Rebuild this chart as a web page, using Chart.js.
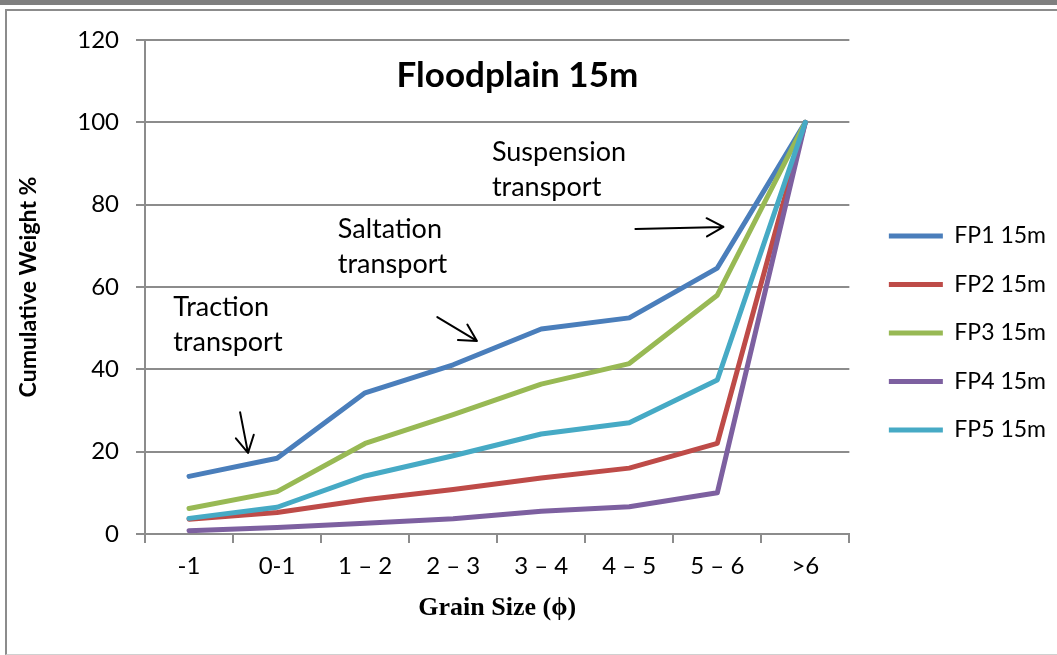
<!DOCTYPE html>
<html>
<head>
<meta charset="utf-8">
<script src="https://cdn.jsdelivr.net/npm/chart.js@4.4.0/dist/chart.umd.min.js"></script>
<style>
    html, body { margin: 0; padding: 0; background: #fff; }
    body { width: 1057px; height: 655px; position: relative; overflow: hidden; }
    .barra { position: absolute; left: 0; top: 0; width: 1057px; height: 5px; background: #7f7f7f; }
    .moldura { position: absolute; left: 5px; top: 9px; width: 1060px; height: 643px;
               border-left: 2px solid #8c8c8c; border-top: 2px solid #8c8c8c; border-bottom: 1px solid #d0d0d0; }
    .grafico { position: absolute; left: 0; top: 0; width: 1057px; height: 655px; }
</style>
</head>
<body>
<div class="barra"></div>
<div class="moldura"></div>
<div class="grafico"><canvas id="lineChart"></canvas></div>

<script>
const categorias = ['-1', '0-1', '1 – 2', '2 – 3', '3 – 4', '4 – 5', '5 – 6', '>6'];
const nomesSeries = ['FP1 15m', 'FP2 15m', 'FP3 15m', 'FP4 15m', 'FP5 15m'];
const fp1 = [14, 18.4, 34.3, 41.1, 49.8, 52.5, 64.6, 100];
const fp2 = [3.6, 5.2, 8.3, 10.8, 13.6, 16, 22, 100];
const fp3 = [6.2, 10.3, 22, 29, 36.4, 41.4, 58, 100];
const fp4 = [0.8, 1.6, 2.6, 3.7, 5.5, 6.6, 10, 100];
const fp5 = [3.8, 6.5, 14.1, 19, 24.3, 27, 37.4, 100];
const cores = ['#4a7ebb', '#be4b48', '#98b954', '#7d60a0', '#46aac5'];

// textos e setas desenhados por cima (posicao em indice de categoria / valor)
const titulo = { texto: 'Floodplain 15m', x: 3.73, y: 111.3 };
const notas = [
    { linhas: ['Traction', 'transport'], x: -0.18, y: 55.1 },
    { linhas: ['Saltation', 'transport'], x: 1.69, y: 74.1 },
    { linhas: ['Suspension', 'transport'], x: 3.44, y: 92.8 }
];
const setas = [
    { de: [0.58, 29.6], para: [0.67, 19.7] },
    { de: [2.82, 52.7], para: [3.27, 46.9] },
    { de: [5.07, 74.1], para: [6.07, 74.6] }
];

let lineChartInstance;

const anotacoes = {
    id: 'anotacoes',
    afterLayout(chart) {
        // legenda um pouco afastada da area do grafico
        const lg = chart.legend;
        const dx = chart.chartArea.right + 14 - lg.left;
        lg.left += dx;
        lg.right += dx;
    },
    afterDraw(chart) {
        const c = chart.ctx;
        const sx = chart.scales.x;
        const sy = chart.scales.y;
        c.save();
        c.fillStyle = '#000';
        c.textBaseline = 'middle';

        c.font = 'bold 35px Lato';
        c.textAlign = 'center';
        c.fillText(titulo.texto, sx.getPixelForValue(titulo.x), sy.getPixelForValue(titulo.y));

        c.font = '27px Lato';
        c.textAlign = 'left';
        notas.forEach(n => {
            const x = sx.getPixelForValue(n.x);
            const y = sy.getPixelForValue(n.y);
            n.linhas.forEach((t, i) => c.fillText(t, x, y + i * 35));
        });

        c.strokeStyle = '#000';
        c.lineWidth = 2;
        c.lineCap = 'round';
        setas.forEach(s => {
            const x0 = sx.getPixelForValue(s.de[0]), y0 = sy.getPixelForValue(s.de[1]);
            const x1 = sx.getPixelForValue(s.para[0]), y1 = sy.getPixelForValue(s.para[1]);
            const ang = Math.atan2(y1 - y0, x1 - x0);
            c.beginPath();
            c.moveTo(x0, y0);
            c.lineTo(x1, y1);
            [-0.5, 0.5].forEach(a => {
                c.moveTo(x1, y1);
                c.lineTo(x1 - 19 * Math.cos(ang + a), y1 - 19 * Math.sin(ang + a));
            });
            c.stroke();
        });
        c.restore();
    }
};

document.addEventListener('DOMContentLoaded', () => {
    const ctx = document.getElementById('lineChart');
    if (!ctx) return;

    Chart.defaults.font.family = 'Lato';
    Chart.defaults.color = '#000';

    const valores = [fp1, fp2, fp3, fp4, fp5];
    const datasets = valores.map((dados, i) => ({
        label: nomesSeries[i],
        data: dados,
        borderColor: cores[i],
        backgroundColor: cores[i],
        borderWidth: 5,
        borderCapStyle: 'round',
        borderJoinStyle: 'round',
        pointRadius: 0,
        tension: 0,
        fill: false,
        order: valores.length - i
    }));

    lineChartInstance = new Chart(ctx, {
        type: 'line',
        data: { labels: categorias, datasets },
        options: {
            responsive: true,
            maintainAspectRatio: false,
            animation: false,
            layout: { padding: { left: 13, top: 40, bottom: 29, right: 15 } },
            plugins: {
                tooltip: { enabled: false },
                legend: {
                    position: 'right',
                    labels: {
                        usePointStyle: true,
                        pointStyle: 'line',
                        pointStyleWidth: 54,
                        padding: 25.5,
                        font: { size: 23 },
                        sort: (a, b) => a.datasetIndex - b.datasetIndex
                    }
                }
            },
            scales: {
                x: {
                    offset: true,
                    grid: { offset: true, drawOnChartArea: false, tickLength: 9, color: '#8c8c8c', lineWidth: 2 },
                    border: { color: '#8c8c8c', width: 2 },
                    ticks: { font: { size: 24 }, padding: 9, maxRotation: 0 },
                    title: {
                        display: true,
                        text: 'Grain Size (ϕ)',
                        font: { family: 'Liberation Serif', size: 26, weight: 'bold' },
                        padding: { top: 4, bottom: 2 }
                    },
                    afterFit: s => { s.height = 92; }
                },
                y: {
                    min: 0,
                    max: 120,
                    ticks: { stepSize: 20, font: { size: 24 }, padding: 17 },
                    grid: { tickLength: 9, color: '#8c8c8c', lineWidth: 2 },
                    border: { color: '#8c8c8c', width: 2 },
                    title: {
                        display: true,
                        text: 'Cumulative Weight %',
                        font: { size: 23, weight: 'bold' },
                        padding: { top: 2, bottom: 4 }
                    },
                    afterFit: s => { s.width = 132; }
                }
            }
        },
        plugins: [anotacoes]
    });
});
</script>
</body>
</html>
